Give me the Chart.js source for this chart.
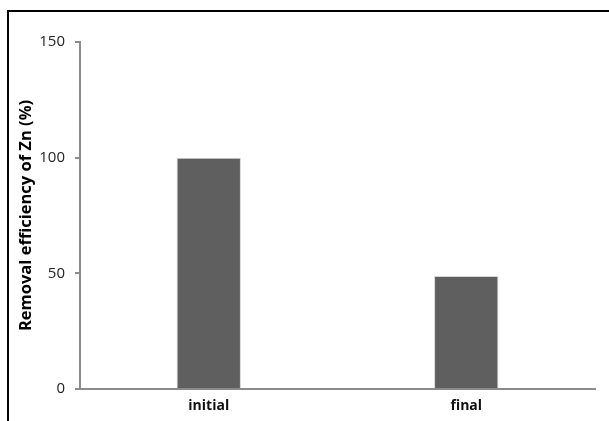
<!DOCTYPE html>
<html>
<head>
<meta charset="utf-8">
<script src="https://cdn.jsdelivr.net/npm/chart.js@4/dist/chart.umd.min.js"></script>
<style>
  body { margin: 0; background: #fff; }
  #wrap { position: relative; width: 609px; height: 421px; overflow: hidden; }
  #frame { position: absolute; left: 7px; top: 10px; width: 640px; height: 460px; border: 2px solid #000; }
  canvas { position: absolute; left: 0; top: 0; }
</style>
</head>
<body>
<div id="wrap">
  <div id="frame"></div>
  <canvas id="myChart" width="609" height="421"></canvas>
</div>
<script>
// chart data
const categories = ["initial", "final"];
const removal = [100, 48.8];
const yTicks = [0, 50, 100, 150];

const axisColor = "#8c8c8c";
const font = "'Open Sans', 'Liberation Sans', sans-serif";

var ctx = document.getElementById("myChart").getContext("2d");
var chart = new Chart(ctx, {
  type: "bar",
  data: {
    labels: categories,
    datasets: [
      {
        label: "Removal efficiency of Zn (%)",
        data: removal,
        backgroundColor: "#5f5f5f",
        borderColor: "#d4d4d4",
        borderWidth: 1,
        barPercentage: 0.25,
        categoryPercentage: 1,
      },
    ],
  },
  options: {
    responsive: false,
    animation: false,
    layout: { padding: { left: 0, top: 42, right: 14, bottom: 0 } },
    plugins: { legend: { display: false }, tooltip: { enabled: false } },
    scales: {
      x: {
        grid: { display: false, drawTicks: false },
        border: { color: axisColor, width: 2 },
        ticks: {
          color: "#111",
          padding: 9,
          font: { family: font, size: 14, weight: "bold" },
        },
        afterFit: function (scale) { scale.height = 32; },
      },
      y: {
        min: 0,
        max: 150,
        afterBuildTicks: function (scale) {
          scale.ticks = yTicks.map((v) => ({ value: v }));
        },
        grid: { drawOnChartArea: false, tickLength: 5, color: axisColor, lineWidth: 2 },
        border: { color: axisColor, width: 2 },
        ticks: {
          color: "#222",
          padding: 10,
          font: { family: font, size: 15 },
        },
        title: {
          display: true,
          text: "Removal efficiency of Zn (%)",
          color: "#000",
          padding: { top: 16, bottom: 0 },
          font: { family: font, size: 16.5, weight: "bold" },
        },
        afterFit: function (scale) { scale.width = 80; },
      },
    },
  },
});
</script>
</body>
</html>
